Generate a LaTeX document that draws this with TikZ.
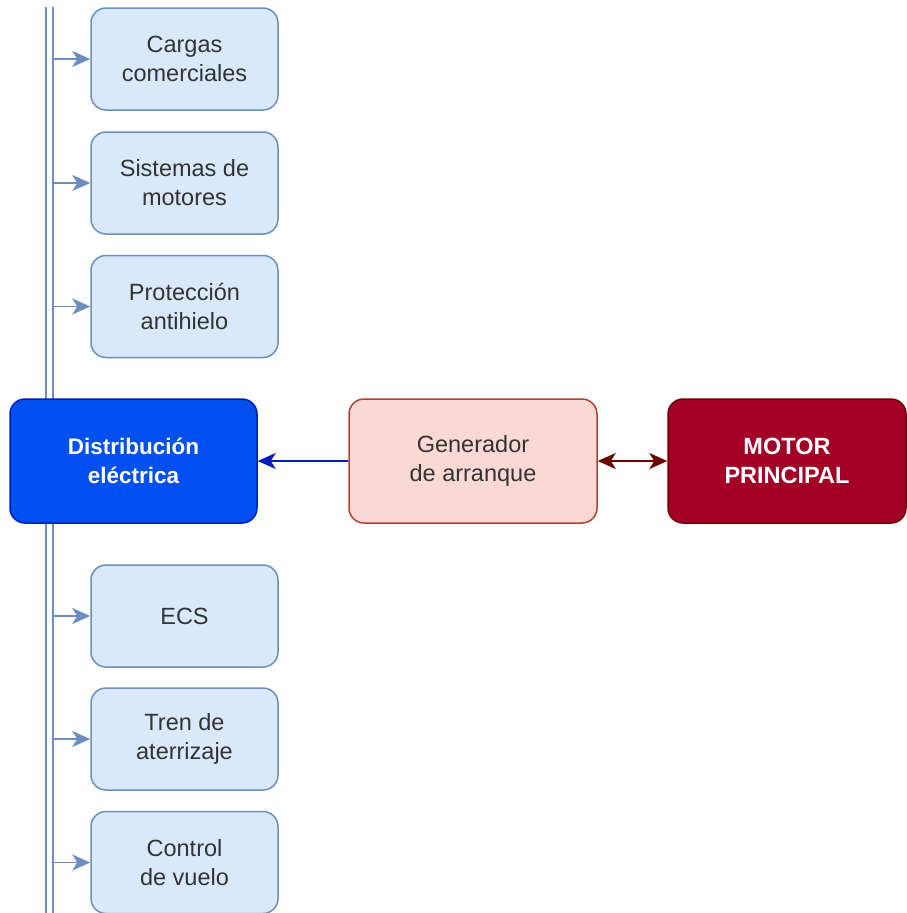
\documentclass[tikz,border=0pt]{standalone}
\usepackage{fontspec}
\setmainfont{Liberation Sans}
\usetikzlibrary{arrows.meta}
\definecolor{lbfill}{HTML}{DAE8FC}
\definecolor{lbdraw}{HTML}{6C8EBF}
\definecolor{bfill}{HTML}{0050EF}
\definecolor{bdraw}{HTML}{001DBC}
\definecolor{pfill}{HTML}{FAD9D5}
\definecolor{pdraw}{HTML}{AE4132}
\definecolor{rfill}{HTML}{A20025}
\definecolor{rdraw}{HTML}{6F0000}
\definecolor{txt}{HTML}{333333}
\tikzset{
  base/.style={rounded corners=15pt, line width=1.5pt, align=center, inner sep=0pt,
    font=\fontsize{23.5}{29}\selectfont},
  loadbox/.style={base, fill=lbfill, draw=lbdraw, text=txt, minimum width=187pt, minimum height=102pt},
  distbox/.style={base, fill=bfill, draw=bdraw, text=white, font=\fontsize{22.5}{29}\selectfont\bfseries, minimum width=247pt, minimum height=124pt},
  genbox/.style={base, fill=pfill, draw=pdraw, text=txt, minimum width=248pt, minimum height=124pt},
  motorbox/.style={base, fill=rfill, draw=rdraw, text=white, font=\fontsize{23.5}{29}\selectfont\bfseries, minimum width=238pt, minimum height=124pt},
  busline/.style={draw=lbdraw, line width=1.5pt},
  feed/.style={draw=lbdraw, line width=1.8pt, -{Stealth[length=18pt,width=16pt,inset=5pt]}},
  link/.style={line width=1.8pt},
}
\begin{document}
\begin{tikzpicture}[x=1pt,y=-1pt]
\useasboundingbox (0,0) rectangle (907,913);
\coordinate (bLt) at (46,7);
\coordinate (bLb) at (46,915);
\coordinate (bRt) at (53,7);
\coordinate (bRb) at (53,915);
\draw[busline] (bLt) -- (bLb);
\draw[busline] (bRt) -- (bRb);

\node[loadbox] (c1) at (184.5,59) {Cargas\\comerciales};
\node[loadbox] (c2) at (184.5,183) {Sistemas de\\motores};
\node[loadbox] (c3) at (184.5,306.5) {Protección\\antihielo};
\node[loadbox] (c4) at (184.5,616) {ECS};
\node[loadbox] (c5) at (184.5,739) {Tren de\\aterrizaje};
\node[loadbox] (c6) at (184.5,862.5) {Control\\de vuelo};

\node[distbox] (dist) at (133.5,461) {Distribución\\eléctrica};
\node[genbox] (gen) at (473,461) {Generador\\de arranque};
\node[motorbox] (motor) at (787,461) {MOTOR\\PRINCIPAL};

\foreach \n in {c1,c2,c3,c4,c5,c6}{
  \draw[feed] (bRt |- \n.west) -- (\n.west);
}
\draw[link, draw=bdraw, -{Stealth[length=18pt,width=16pt,inset=5pt]}] (gen.west) -- (dist.east);
\draw[link, draw=rdraw, {Stealth[length=18pt,width=16pt,inset=5pt]}-{Stealth[length=18pt,width=16pt,inset=5pt]}] (gen.east) -- (motor.west);
\end{tikzpicture}
\end{document}
